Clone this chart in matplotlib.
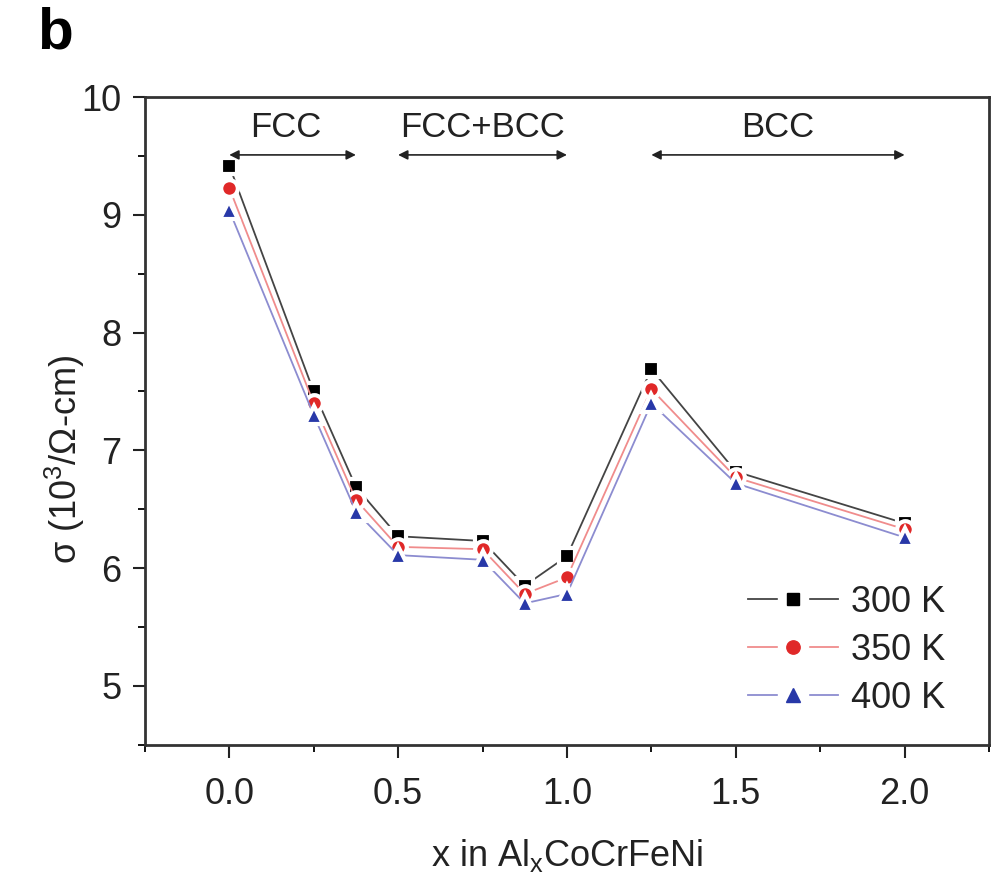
import numpy as np
import matplotlib
matplotlib.use("Agg")
import matplotlib.pyplot as plt
from matplotlib.lines import Line2D
from matplotlib.ticker import MultipleLocator

plt.rcParams['font.family'] = ['Liberation Sans', 'DejaVu Sans']

# data
x = [0.0, 0.25, 0.375, 0.5, 0.75, 0.875, 1.0, 1.25, 1.5, 2.0]
s300 = [9.42, 7.50, 6.69, 6.27, 6.23, 5.85, 6.10, 7.69, 6.82, 6.38]
s350 = [9.23, 7.40, 6.58, 6.18, 6.16, 5.78, 5.92, 7.52, 6.77, 6.33]
s400 = [9.04, 7.30, 6.48, 6.11, 6.07, 5.70, 5.78, 7.40, 6.72, 6.26]
labels = ['300 K', '350 K', '400 K']

# phase regions: (label, start, end)
phases = [('FCC', 0.0, 0.375), ('FCC+BCC', 0.5, 1.0), ('BCC', 1.25, 2.0)]

fig = plt.figure(figsize=(9.92, 8.76), dpi=100)
ax = fig.add_axes([0.146, 0.150, 0.851, 0.739])

styles = [
    dict(color='#444444', marker='s', mfc='black', ms=11),
    dict(color='#f08c8c', marker='o', mfc='#e02828', ms=12),
    dict(color='#8c8cd0', marker='^', mfc='#2838a8', ms=13),
]
handles = []
for ys, lab, st in zip([s300, s350, s400], labels, styles):
    ax.plot(x, ys, lw=1.3, mew=3, mec='white', **st)
    # legend: line - gap - marker - gap - line
    seg = Line2D([], [], color=st['color'], lw=1.3)
    gap = Line2D([], [], ls='none', marker='s', mfc='white', mec='white', ms=21)
    mk = Line2D([], [], ls='none', marker=st['marker'], mfc=st['mfc'],
                mec=st['mfc'], ms=st['ms'] * 0.8)
    handles.append((seg, gap, mk))

# phase arrows
for name, x0, x1 in phases:
    ax.annotate('', xy=(x0, 9.51), xytext=(x1, 9.51),
                arrowprops=dict(arrowstyle='<|-|>', color='#222222', lw=1.2,
                                mutation_scale=14, shrinkA=0, shrinkB=0))
    ax.text((x0 + x1) / 2 - (0.02 if name == 'FCC' else 0), 9.74, name,
            ha='center', va='center', fontsize=25, color='#222222')

ax.set_xlim(-0.25, 2.25)
ax.set_ylim(4.5, 10)
ax.set_xticks([0.0, 0.5, 1.0, 1.5, 2.0])
ax.xaxis.set_minor_locator(MultipleLocator(0.25))
ax.set_yticks([5, 6, 7, 8, 9, 10])
ax.yaxis.set_minor_locator(MultipleLocator(0.5))
ax.tick_params(which='major', direction='out', length=9, width=1.5,
               labelsize=26, colors='#222222', pad=8)
ax.tick_params(axis='x', which='major', pad=14)
ax.tick_params(which='minor', direction='out', length=5, width=1.3)
for sp in ax.spines.values():
    sp.set_linewidth(2)
    sp.set_color('#333333')

ax.set_xlabel('x in Al$_\\mathregular{x}$CoCrFeNi', fontsize=26, labelpad=18,
              color='#222222')
ax.set_ylabel('σ (10$^\\mathregular{3}$/Ω-cm)', fontsize=26, color='#222222')
ax.yaxis.set_label_coords(-0.068, 0.44)

leg = ax.legend(handles, labels, loc='upper left', bbox_to_anchor=(0.714, 0.247),
                frameon=False, fontsize=26, handlelength=2.5, labelspacing=0.36,
                handletextpad=0.35, borderpad=0, borderaxespad=0)
for t in leg.get_texts():
    t.set_color('#222222')

fig.text(0.037, 0.962, 'b', fontsize=42, fontweight='bold', va='center')

fig.savefig('out.png', dpi=100)
